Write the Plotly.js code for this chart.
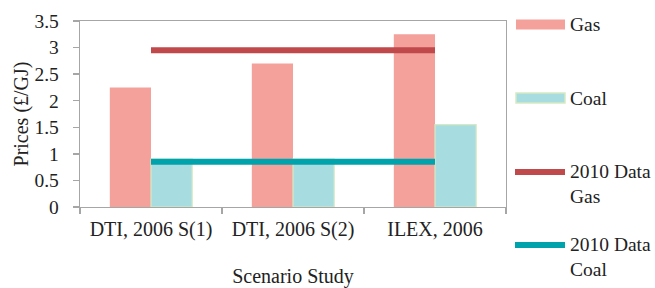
<!DOCTYPE html>
<html>
<head>
<meta charset="utf-8">
<script src="https://cdn.plot.ly/plotly-3.0.1.min.js"></script>
<style>html,body{margin:0;padding:0;background:#fff;}#chart{width:655px;height:288px;}</style>
</head>
<body>
<div id="chart"></div>
<script>
const categories = ['DTI, 2006 S(1)', 'DTI, 2006 S(2)', 'ILEX, 2006'];
const gasPrices = [2.25, 2.7, 3.25];
const coalPrices = [0.9, 0.9, 1.55];
const gasData2010 = [2.95, 2.95, 2.95];
const coalData2010 = [0.85, 0.85, 0.85];
const seriesNames = ['Gas', 'Coal', '2010 Data<br>Gas', '2010 Data<br>Coal'];
const seriesColors = ['#f4a19c', '#a7dde0', '#c0494b', '#00a2ac'];

const W = 655, H = 288;
const M = {l: 80, r: 149, t: 21, b: 81};
const PW = W - M.l - M.r, PH = H - M.t - M.b;
const px = x => (x - M.l) / PW;
const py = y => (H - M.b - y) / PH;
const FONT = '"Liberation Serif", "Times New Roman", serif';

const traces = [
  {type: 'bar', x: categories, y: gasPrices, name: seriesNames[0],
   marker: {color: seriesColors[0], line: {width: 0}}, hoverinfo: 'none'},
  {type: 'bar', x: categories, y: coalPrices, name: seriesNames[1],
   marker: {color: seriesColors[1], line: {color: '#d6e9c2', width: 1.2}}, hoverinfo: 'none'},
  {type: 'scatter', mode: 'lines', x: categories, y: gasData2010, name: seriesNames[2],
   line: {color: seriesColors[2], width: 6}, hoverinfo: 'none'},
  {type: 'scatter', mode: 'lines', x: categories, y: coalData2010, name: seriesNames[3],
   line: {color: seriesColors[3], width: 6}, hoverinfo: 'none'}
];

// manual legend
const legendY = [24.5, 98, 183.5, 256.5];
const lineY = [null, null, 172, 245];
const shapes = [];
const annotations = [];
for (let i = 0; i < 4; i++) {
  if (i < 2) {
    shapes.push({type: 'rect', xref: 'paper', yref: 'paper',
      x0: px(516), x1: px(565), y0: py(legendY[i] - 5), y1: py(legendY[i] + 5),
      fillcolor: seriesColors[i],
      line: {color: i === 1 ? '#d6e9c2' : seriesColors[i], width: i === 1 ? 1.5 : 0}});
  } else {
    shapes.push({type: 'line', xref: 'paper', yref: 'paper',
      x0: px(515), x1: px(565), y0: py(lineY[i]), y1: py(lineY[i]),
      line: {color: seriesColors[i], width: 6}});
  }
  annotations.push({xref: 'paper', yref: 'paper', x: px(568), y: py(legendY[i]),
    xanchor: 'left', yanchor: 'middle', align: 'left', showarrow: false,
    text: seriesNames[i], font: {family: FONT, size: 19.5, color: '#222'}});
}

const layout = {
  width: W, height: H,
  margin: M,
  paper_bgcolor: '#fff', plot_bgcolor: '#fff',
  showlegend: false,
  barmode: 'group', bargap: 0.42, bargroupgap: 0,
  font: {family: FONT, size: 19, color: '#222'},
  xaxis: {
    type: 'category', tickson: 'boundaries',
    showline: true, linecolor: '#a6a6a6', linewidth: 1.3, mirror: true,
    ticks: 'outside', ticklen: 6, tickcolor: '#a6a6a6', tickwidth: 1.3,
    ticklabelstandoff: 4,
    tickfont: {family: FONT, size: 20, color: '#222'},
    showgrid: false, zeroline: false, automargin: false,
    title: {text: 'Scenario Study', font: {family: FONT, size: 20, color: '#222'}, standoff: 30}
  },
  yaxis: {
    range: [0, 3.5], dtick: 0.5, tick0: 0,
    showline: true, linecolor: '#a6a6a6', linewidth: 1.3, mirror: true,
    ticks: 'outside', ticklen: 6, tickcolor: '#a6a6a6', tickwidth: 1.3,
    ticklabelstandoff: 10,
    tickfont: {family: FONT, size: 19.5, color: '#222'},
    showgrid: false, zeroline: false, automargin: false,
    title: {text: 'Prices (£/GJ)', font: {family: FONT, size: 20, color: '#222'}, standoff: 0}
  },
  shapes: shapes,
  annotations: annotations
};

Plotly.newPlot('chart', traces, layout, {staticPlot: true, displayModeBar: false});
</script>
</body>
</html>
